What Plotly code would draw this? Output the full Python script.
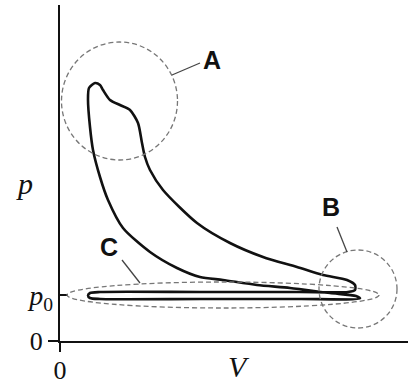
import plotly.graph_objects as go

# p-V loop of an engine cycle (arbitrary units)
# compression -> combustion peak -> expansion -> exhaust -> intake
cycle_v = [296, 270, 230, 197, 163, 140, 117, 90, 63, 48, 40, 33, 30, 28, 29, 35,
           40, 43, 50, 60, 70, 78, 82, 85, 90, 103, 137, 170, 203, 237, 263, 287, 295, 295, 288,
           240, 140, 40, 30, 28, 30, 40, 140, 240, 300, 296]
cycle_p = [45, 48, 53, 56, 61, 64, 73, 89, 113, 141, 164, 191, 214, 241, 253, 258,
           256, 251, 241, 236, 231, 218, 198, 184, 171, 151, 118, 98, 84, 74, 66, 61, 56, 51, 49,
           49, 49, 49, 48, 45.5, 43, 42, 42, 42, 42.5, 45]

p0 = 46

# callout regions: label, label position, centre, radii (x, y), leader line
callouts = ["A", "B", "C"]
callout_label_xy = [(152, 281), (271, 134), (49, 94)]
callout_centre = [(59.5, 240), (298, 52), (163, 46)]
callout_radius = [(58, 59), (39, 39), (156, 13)]
callout_leader = [((112, 266), (140, 278)), ((287, 89), (277, 114)), ((80, 58), (62, 81))]

fig = go.Figure()
fig.add_trace(go.Scatter(x=cycle_v, y=cycle_p, mode="lines",
                         line=dict(color="#111111", width=2.6, shape="spline", smoothing=0.7),
                         hoverinfo="skip"))
# empty trace so the p0 axis gets drawn
fig.add_trace(go.Scatter(x=[None], y=[None], yaxis="y2", mode="lines", hoverinfo="skip"))

shapes = []
for (cx, cy), (rx, ry) in zip(callout_centre, callout_radius):
    shapes.append(dict(type="circle", xref="x", yref="y",
                       x0=cx - rx, x1=cx + rx, y0=cy - ry, y1=cy + ry,
                       line=dict(color="#777777", width=1.3, dash="5px,3px")))
for (a, b) in callout_leader:
    shapes.append(dict(type="line", xref="x", yref="y", x0=a[0], y0=a[1], x1=b[0], y1=b[1],
                       line=dict(color="#444444", width=1.3)))

annotations = []
for name, (lx, ly) in zip(callouts, callout_label_xy):
    annotations.append(dict(x=lx, y=ly, xref="x", yref="y", text="<b>" + name + "</b>",
                            showarrow=False,
                            font=dict(family="Liberation Sans", size=25, color="#111111")))
annotations.append(dict(x=-0.103, y=0.47, xref="paper", yref="paper", text="<i>p</i>",
                        showarrow=False, xanchor="center", yanchor="middle",
                        font=dict(family="Liberation Serif", size=30, color="#111111")))
annotations.append(dict(x=0.514, y=-0.075, xref="paper", yref="paper", text="<i>V</i>",
                        showarrow=False, xanchor="center", yanchor="middle",
                        font=dict(family="Liberation Serif", size=30, color="#111111")))

tick_font = dict(family="Liberation Serif", size=26, color="#111111")

fig.update_layout(
    width=408, height=390,
    margin=dict(l=60, r=0, t=5, b=49),
    paper_bgcolor="white", plot_bgcolor="white",
    showlegend=False,
    shapes=shapes, annotations=annotations,
    xaxis=dict(range=[0, 348], showgrid=False, zeroline=False, automargin=False,
               showline=True, linecolor="#111111", linewidth=2,
               ticks="outside", ticklen=9, tickwidth=1.5, tickcolor="#111111",
               tickvals=[0], ticktext=["0"], tickfont=tick_font, ticklabelstandoff=-4),
    yaxis=dict(range=[0, 336], showgrid=False, zeroline=False, automargin=False,
               showline=True, linecolor="#111111", linewidth=2,
               ticks="outside", ticklen=10, tickwidth=1.5, tickcolor="#111111",
               tickvals=[0], ticktext=["0"], tickfont=tick_font),
    yaxis2=dict(range=[0, 336], overlaying="y", side="left", anchor="x", automargin=False,
                showgrid=False, zeroline=False, showline=False,
                ticks="inside", ticklen=8, tickwidth=1.5, tickcolor="#111111",
                tickvals=[p0], ticktext=["<i>p</i><sub>0</sub>"],
                tickfont=dict(family="Liberation Serif", size=28, color="#111111"),
                ticklabelstandoff=6),
)

# drop the default page margin so the figure sits at the window corner
fig.write_html("out.html", config={"displayModeBar": False},
               post_script="document.body.style.margin='0px';")
